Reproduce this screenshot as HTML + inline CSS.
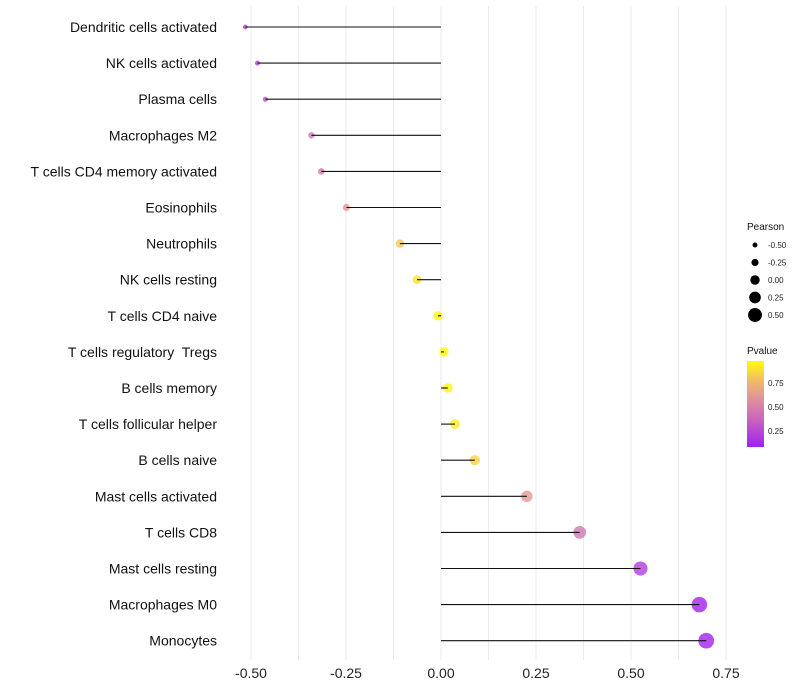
<!DOCTYPE html>
<html><head><meta charset="utf-8"><style>body{margin:0;background:#fff}svg{display:block;font-family:"Liberation Sans",sans-serif}text{white-space:pre}</style></head>
<body>
<svg id="chart" width="800" height="700">
<defs><linearGradient id="pg" x1="0" y1="1" x2="0" y2="0">
<stop offset="0" stop-color="#a020f0"/><stop offset="0.3" stop-color="#c860c0"/><stop offset="0.55" stop-color="#e090a0"/><stop offset="0.8" stop-color="#f4c060"/><stop offset="1" stop-color="#ffff00"/></linearGradient></defs>
<g id="grid"></g>
<g id="points"></g>
<g id="marks"></g>
<g id="labels"></g>
<g id="legend"></g>
</svg>
<script>
const categories=["Dendritic cells activated","NK cells activated","Plasma cells","Macrophages M2","T cells CD4 memory activated","Eosinophils","Neutrophils","NK cells resting","T cells CD4 naive","T cells regulatory  Tregs","B cells memory","T cells follicular helper","B cells naive","Mast cells activated","T cells CD8","Mast cells resting","Macrophages M0","Monocytes"];
const pearson=[-0.515,-0.483,-0.462,-0.341,-0.315,-0.249,-0.108,-0.063,-0.008,0.008,0.018,0.037,0.089,0.226,0.365,0.525,0.68,0.698];
const pvalue=[0.22,0.22,0.27,0.45,0.45,0.62,0.82,0.9,0.97,0.97,0.95,0.93,0.85,0.62,0.45,0.2,0.09,0.09];
const xTicks=[-0.5,-0.25,0,0.25,0.5,0.75];
const xTickLabels=["-0.50","-0.25","0.00","0.25","0.50","0.75"];
const sizeLegend=[-0.5,-0.25,0,0.25,0.5];
const NS="http://www.w3.org/2000/svg";
const X=v=>441+v*380;
const Y=i=>27+i*36.1;
const R=v=>4.7+4.5*v;
const cols=[[160,32,240],[200,96,192],[224,144,160],[244,192,96],[255,255,0]],st=[0,0.3,0.55,0.8,1];
function col(p){let t=(p-0.083)/(0.98-0.083);t=Math.max(0,Math.min(1,t));let k=0;while(k<3&&t>st[k+1])k++;const f=(t-st[k])/(st[k+1]-st[k]);const c=cols[k].map((a,j)=>Math.round(a+(cols[k+1][j]-a)*f));return `rgb(${c})`;}
function mk(tag,at,par,txt){const e=document.createElementNS(NS,tag);for(const k in at)e.setAttribute(k,at[k]);if(txt!==undefined)e.textContent=txt;document.getElementById(par).appendChild(e);return e;}
for(let v=-0.5;v<=0.751;v+=0.125){const g=mk('line',{x1:X(v),x2:X(v),y1:6,y2:660,stroke:'#ebebeb','stroke-width':1},'grid');

}
xTicks.forEach((v,i)=>{const t=mk('text',{x:X(v),y:678,'text-anchor':'middle','font-size':14,fill:'#222'},'labels',xTickLabels[i]);

});
categories.forEach((c,i)=>{const t=mk('text',{x:217,y:Y(i)+5,'text-anchor':'end','font-size':14,fill:'#111'},'labels',c);


const d=mk('circle',{cx:X(pearson[i]),cy:Y(i),r:R(pearson[i]),fill:col(pvalue[i]),'fill-opacity':0.8},'points');


const l=mk('line',{x1:X(0),x2:X(pearson[i]),y1:Y(i),y2:Y(i),stroke:'#111','stroke-width':1.1},'marks');

});
let t=mk('text',{x:747,y:230,'font-size':10,fill:'#111'},'legend','Pearson');


sizeLegend.forEach((v,i)=>{const y=245+i*17.5;const c=mk('circle',{cx:755,cy:y,r:R(v)},'legend');


const tt=mk('text',{x:768,y:y+3,'font-size':8,fill:'#222'},'legend',v.toFixed(2));

});
t=mk('text',{x:747,y:354,'font-size':10,fill:'#111'},'legend','Pvalue');


const bar=mk('rect',{x:747,y:361,width:17,height:86,fill:'url(#pg)'},'legend');


[[0.75,383],[0.5,407],[0.25,431]].forEach(([v,y])=>{const tt=mk('text',{x:768,y:y+3,'font-size':8,fill:'#222'},'legend',v.toFixed(2));

});
</script>
</body></html>
